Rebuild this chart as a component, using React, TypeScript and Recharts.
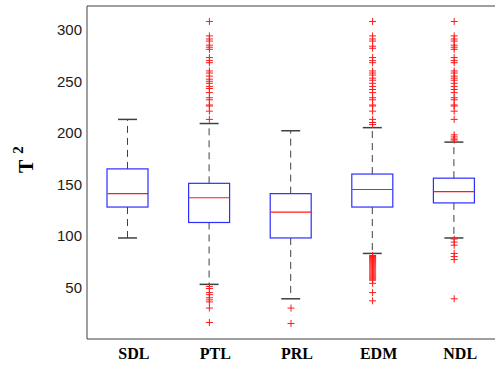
import { ComposedChart, Bar, Scatter, XAxis, YAxis } from 'recharts'

const categories = ['SDL', 'PTL', 'PRL', 'EDM', 'NDL']
const whiskerLow = [98, 53, 39, 83, 98]
const lowerQuartile = [128, 113, 98, 128, 132]
const median = [141, 137, 123, 145, 143]
const upperQuartile = [165, 151, 141, 160, 156]
const whiskerHigh = [213, 209, 202, 205, 191]

const sdlOutliers: number[] = []
const ptlOutliers = [308, 294, 291, 289, 285, 283, 281, 273, 270, 268, 260, 258, 255, 252, 250, 248, 245, 243, 239, 234, 232, 227, 226, 221, 213,
  51, 49, 45, 43, 40, 38, 36, 30, 16]
const prlOutliers = [30, 15]
const edmOutliers = [308, 294, 291, 289, 284, 282, 273, 270, 268, 260, 258, 256, 253, 251, 248, 245, 242, 239, 234, 232, 227, 226, 221, 213, 210, 208,
  81, 80, 79, 78, 77, 76, 75, 74, 73, 72, 71, 70, 69, 68, 67, 66, 65, 64, 63, 62, 61, 60, 59, 58, 57, 54, 45, 37]
const ndlOutliers = [308, 294, 291, 289, 285, 283, 281, 273, 270, 268, 260, 258, 255, 253, 251, 248, 245, 242, 239, 234, 232, 227, 226, 221, 213, 198, 196, 194, 193,
  97, 94, 91, 83, 80, 77, 39]

const yTicks = [50, 100, 150, 200, 250, 300]

const rows = categories.map((name, i) => ({
  name,
  pos: i + 1,
  lo: whiskerLow[i],
  q1: lowerQuartile[i],
  med: median[i],
  q3: upperQuartile[i],
  hi: whiskerHigh[i],
}))

const outliers = [sdlOutliers, ptlOutliers, prlOutliers, edmOutliers, ndlOutliers]
  .flatMap((list, i) => list.map(v => ({ pos: i + 1, v })))

const AXIS = '#404040'
const BLUE = '#2e2eff'
const RED = '#ff1a1a'

const BoxShape = (p: any) => (
  <rect x={p.x} y={p.y} width={p.width} height={p.height} fill="none" stroke={BLUE} strokeWidth={1.2} />
)

const LowerWhisker = (p: any) => {
  const cx = p.x + p.width / 2
  const bottom = p.y + p.height
  return (
    <g>
      <line x1={cx} x2={cx} y1={p.y} y2={bottom} stroke={AXIS} strokeDasharray="7 5" />
      <line x1={cx - 9.5} x2={cx + 9.5} y1={bottom} y2={bottom} stroke={AXIS} strokeWidth={1.5} />
    </g>
  )
}

const UpperWhisker = (p: any) => {
  const cx = p.x + p.width / 2
  const bottom = p.y + p.height
  return (
    <g>
      <line x1={cx} x2={cx} y1={bottom} y2={p.y} stroke={AXIS} strokeDasharray="7 5" />
      <line x1={cx - 9.5} x2={cx + 9.5} y1={p.y} y2={p.y} stroke={AXIS} strokeWidth={1.5} />
    </g>
  )
}

const MedianLine = (p: any) => (
  <line x1={p.cx - 20.5} x2={p.cx + 20.5} y1={p.cy} y2={p.cy} stroke={RED} strokeWidth={1.2} />
)

const Cross = (p: any) => (
  <path d={`M${p.cx - 3.5},${p.cy}h7M${p.cx},${p.cy - 3.5}v7`} stroke={RED} strokeWidth={1} fill="none" />
)

const YLabel = () => (
  <text transform="translate(33,173) rotate(-90)" fontFamily="Liberation Serif" fontWeight="bold" fontSize={20} fill="#000">
    T<tspan dx={6} dy={-10} fontSize={15}>2</tspan>
  </text>
)

export default function App() {
  return (
    <div>
      <style>{'body{margin:0}'}</style>
      <ComposedChart width={495} height={365} data={rows} margin={{ top: 5, right: 0, bottom: 0, left: 0 }}>
        <XAxis
          xAxisId="box"
          dataKey="name"
          height={26}
          tickLine={false}
          tickSize={0}
          tickMargin={9}
          axisLine={{ stroke: AXIS }}
          tick={{ fontFamily: 'Liberation Serif', fontWeight: 'bold', fontSize: 16, fill: '#000', dx: 6 }}
        />
        <XAxis xAxisId="lw" dataKey="name" hide />
        <XAxis xAxisId="uw" dataKey="name" hide />
        <XAxis xAxisId="num" type="number" dataKey="pos" domain={[0.5, 5.5]} allowDataOverflow hide />
        <XAxis xAxisId="top" dataKey="name" orientation="top" height={1} tick={false} tickLine={false} axisLine={{ stroke: AXIS }} />
        <YAxis
          width={87}
          domain={[0, 323]}
          ticks={yTicks}
          allowDataOverflow
          tickLine={false}
          tickSize={0}
          tickMargin={5}
          axisLine={{ stroke: AXIS }}
          tick={{ fontFamily: 'Liberation Sans', fontSize: 15, fill: '#1a1a1a' }}
          label={<YLabel />}
        />
        <YAxis
          yAxisId="right"
          orientation="right"
          width={0}
          domain={[0, 323]}
          ticks={yTicks}
          allowDataOverflow
          tick={false}
          tickSize={-3}
          tickLine={{ stroke: AXIS }}
          axisLine={{ stroke: AXIS }}
        />
        <Bar xAxisId="lw" dataKey={(d: any) => [d.lo, d.q1]} barSize={41} shape={LowerWhisker} isAnimationActive={false} />
        <Bar xAxisId="uw" dataKey={(d: any) => [d.q3, d.hi]} barSize={41} shape={UpperWhisker} isAnimationActive={false} />
        <Bar xAxisId="box" dataKey={(d: any) => [d.q1, d.q3]} barSize={41} shape={BoxShape} isAnimationActive={false} />
        <Scatter xAxisId="num" data={rows} dataKey="med" shape={MedianLine} isAnimationActive={false} />
        <Scatter xAxisId="num" data={outliers} dataKey="v" shape={Cross} isAnimationActive={false} />
      </ComposedChart>
    </div>
  )
}
